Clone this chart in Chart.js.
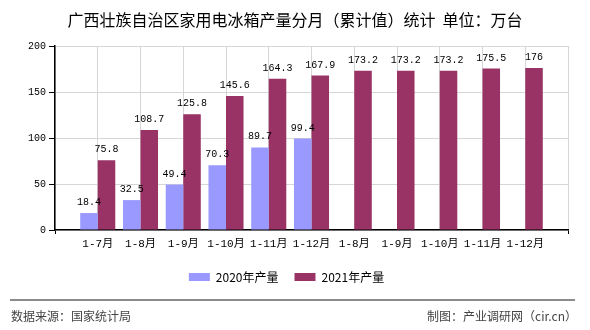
<!DOCTYPE html>
<html>
<head>
<meta charset="utf-8">
<script src="https://cdn.jsdelivr.net/npm/chart.js@4"></script>
<style>
    body { margin: 0; background: #fff; }
    #wrap { position: relative; width: 590px; height: 330px; overflow: hidden; }
    #chartBox { position: absolute; left: 0; top: 0; width: 590px; height: 330px; }
    .title { position: absolute; left: 0; top: 7px; width: 590px; text-align: center; font: 16px "Noto Sans CJK SC", sans-serif; color: #000; white-space: pre; }
    .rule { position: absolute; left: 10px; top: 299px; width: 565px; height: 0; border-top: 2px solid #8c8c8c; }
    .foot { position: absolute; top: 307px; font: 12px "Noto Sans CJK SC", sans-serif; color: #444; }
</style>
</head>
<body>
<div id="wrap">
    <div id="chartBox"><canvas id="fridgeChart"></canvas></div>
    <div class="title">广西壮族自治区家用电冰箱产量分月（累计值）统计  单位：万台</div>
    <div class="rule"></div>
    <div class="foot" style="left:11px">数据来源：国家统计局</div>
    <div class="foot" style="right:13px">制图：产业调研网（cir.cn）</div>
</div>
<script>
var categories = ['1-7月', '1-8月', '1-9月', '1-10月', '1-11月', '1-12月', '1-8月', '1-9月', '1-10月', '1-11月', '1-12月'];
var values2020 = [18.4, 32.5, 49.4, 70.3, 89.7, 99.4, null, null, null, null, null];
var values2021 = [75.8, 108.7, 125.8, 145.6, 164.3, 167.9, 173.2, 173.2, 173.2, 175.5, 176];
var yTicks = [0, 50, 100, 150, 200];

var monoFont = "'Liberation Mono', 'Noto Sans CJK SC', monospace";

// empty slot on each side of the categories, like the original
function pad(arr, fill) {
    return [fill].concat(arr, [fill]);
}

// value labels above the bars
var barLabels = {
    id: 'barLabels',
    afterDatasetsDraw: function (chart) {
        var ctx = chart.ctx;
        ctx.save();
        ctx.font = '10px ' + monoFont;
        ctx.fillStyle = '#000';
        ctx.textAlign = 'center';
        ctx.textBaseline = 'alphabetic';
        chart.data.datasets.forEach(function (ds, i) {
            var meta = chart.getDatasetMeta(i);
            meta.data.forEach(function (bar, j) {
                var v = ds.data[j];
                if (v === null || v === undefined) {
                    return;
                }
                ctx.fillText(String(v), bar.x, bar.y - 8);
            });
        });
        ctx.restore();
    }
};

var ctx = document.getElementById('fridgeChart');
var myChart = new Chart(ctx, {
    type: 'bar',
    data: {
        labels: pad(categories, ''),
        datasets: [{
            label: '2020年产量',
            data: pad(values2020, null),
            backgroundColor: '#9999ff',
            categoryPercentage: 0.82,
            barPercentage: 1
        }, {
            label: '2021年产量',
            data: pad(values2021, null),
            backgroundColor: '#993366',
            categoryPercentage: 0.82,
            barPercentage: 1
        }]
    },
    options: {
        responsive: true,
        maintainAspectRatio: false,
        animation: false,
        layout: {
            padding: { left: 5, right: 22, top: 46, bottom: 37 }
        },
        plugins: {
            title: { display: false },
            tooltip: { enabled: false },
            legend: {
                position: 'bottom',
                labels: {
                    boxWidth: 21,
                    boxHeight: 8,
                    padding: 16,
                    color: '#000',
                    font: { family: "'Noto Sans CJK SC', sans-serif", size: 12 }
                }
            }
        },
        scales: {
            x: {
                offset: false,
                grid: {
                    offset: false,
                    color: '#d6d6d6',
                    tickLength: 4,
                    tickColor: function (c) {
                        return (c.index === 0 || c.index === categories.length + 1) ? '#000' : 'rgba(0,0,0,0)';
                    }
                },
                border: { color: '#000', width: 1.5 },
                ticks: {
                    autoSkip: false,
                    maxRotation: 0,
                    padding: 3,
                    color: '#000',
                    font: { family: monoFont, size: 11 }
                },
                afterFit: function (s) { s.height = 25; }
            },
            y: {
                min: 0,
                max: 200,
                afterBuildTicks: function (s) {
                    s.ticks = yTicks.map(function (v) { return { value: v }; });
                },
                grid: {
                    color: '#d6d6d6',
                    tickLength: 6,
                    tickColor: '#000'
                },
                border: { color: '#000', width: 1.5 },
                ticks: {
                    padding: 3,
                    color: '#000',
                    font: { family: monoFont, size: 10 }
                },
                afterFit: function (s) { s.width = 50; }
            }
        }
    },
    plugins: [barLabels]
});
</script>
</body>
</html>
